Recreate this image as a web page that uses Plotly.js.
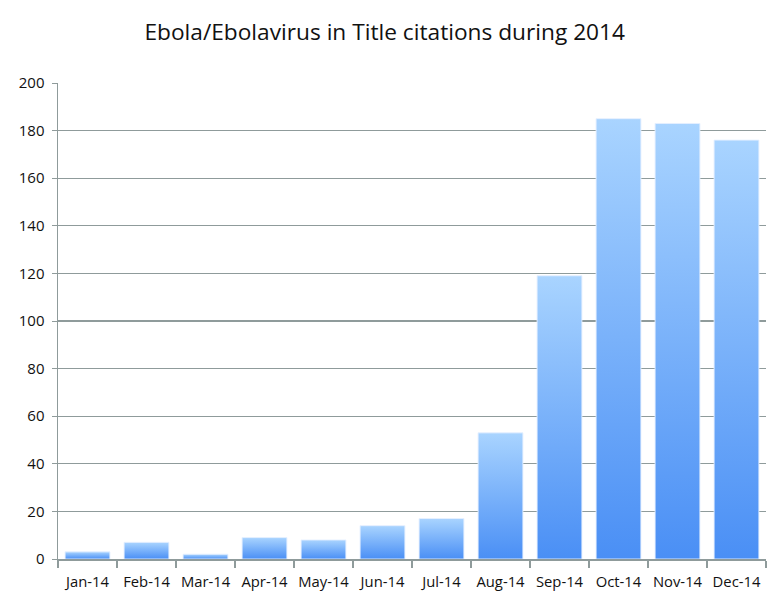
<!DOCTYPE html>
<html>
<head>
<meta charset="utf-8">
<script src="https://cdn.plot.ly/plotly-3.0.1.min.js"></script>
<style>html,body{margin:0;padding:0;background:#fff;}#chart{width:782px;height:614px;}</style>
</head>
<body>
<div id="chart"></div>
<script>
var months = ["Jan-14","Feb-14","Mar-14","Apr-14","May-14","Jun-14","Jul-14","Aug-14","Sep-14","Oct-14","Nov-14","Dec-14"];
var citations = [3, 7, 2, 9, 8, 14, 17, 53, 119, 185, 183, 176];
var yTicks = [0, 20, 40, 60, 80, 100, 120, 140, 160, 180, 200];

var axisColor = '#8f9b9b';
var fontFam = '"Open Sans", "Liberation Sans", sans-serif';

var trace = {
  type: 'bar',
  x: months,
  y: citations,
  marker: {color: '#6fb0fb', line: {color: 'rgba(230,240,255,0.9)', width: 1}},
  hoverinfo: 'x+y'
};

var layout = {
  width: 782, height: 614,
  margin: {l: 58, r: 16, t: 83, b: 55},
  paper_bgcolor: '#fff', plot_bgcolor: '#fff',
  bargap: 0.24,
  showlegend: false,
  title: {text: 'Ebola/Ebolavirus in Title citations during 2014', x: 0.492, xanchor: 'center', y: 0.947, yanchor: 'middle',
          font: {family: fontFam, size: 22.7, color: '#111'}},
  xaxis: {type: 'category', showgrid: false, showline: true, linecolor: axisColor, linewidth: 1.5,
          ticks: 'outside', tickson: 'boundaries', ticklen: 7, tickcolor: axisColor, tickwidth: 1.2,
          ticklabelstandoff: 9, tickangle: 0,
          tickfont: {family: fontFam, size: 14.8, color: '#111'}, zeroline: false, fixedrange: true},
  yaxis: {range: [0, 200], tickvals: yTicks, showgrid: true, gridcolor: axisColor, gridwidth: 1.2,
          showline: true, linecolor: axisColor, linewidth: 1.5, ticks: 'outside', ticklen: 5,
          ticklabelstandoff: 4,
          tickcolor: axisColor, tickfont: {family: fontFam, size: 15, color: '#111'}, zeroline: false, fixedrange: true}
};

Plotly.newPlot('chart', [trace], layout, {displayModeBar: false, staticPlot: true}).then(function(gd){
  var svg = gd.querySelector('svg.main-svg');
  var ns = 'http://www.w3.org/2000/svg';
  var defs = svg.querySelector('defs');
  if (!defs) { defs = document.createElementNS(ns, 'defs'); svg.insertBefore(defs, svg.firstChild); }
  var g = document.createElementNS(ns, 'linearGradient');
  g.setAttribute('id', 'barGrad');
  g.setAttribute('x1', '0'); g.setAttribute('y1', '0'); g.setAttribute('x2', '0'); g.setAttribute('y2', '1');
  [['0%', '#a9d4ff'], ['100%', '#4a8ff5']].forEach(function(s){
    var st = document.createElementNS(ns, 'stop');
    st.setAttribute('offset', s[0]); st.setAttribute('stop-color', s[1]);
    g.appendChild(st);
  });
  defs.appendChild(g);
  gd.querySelectorAll('.bars .point path').forEach(function(p){ p.style.fill = 'url(#barGrad)'; });
});
</script>
</body>
</html>
